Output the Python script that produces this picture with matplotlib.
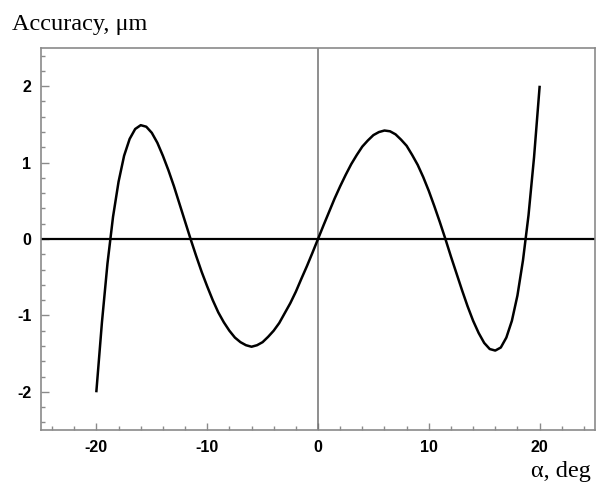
import matplotlib
matplotlib.use('Agg')
import matplotlib.pyplot as plt
from matplotlib.ticker import MultipleLocator

# angle (deg) and accuracy (um), every 0.5 deg
alpha = [x / 2 for x in range(-40, 41)]
accuracy = [
    -1.99, -1.09, -0.32, 0.29, 0.75, 1.09, 1.31, 1.44, 1.49, 1.47,
    1.39, 1.26, 1.09, 0.90, 0.69, 0.46, 0.23, 0.0, -0.22, -0.43,
    -0.62, -0.80, -0.96, -1.09, -1.20, -1.29, -1.35, -1.39, -1.41, -1.39,
    -1.35, -1.28, -1.20, -1.10, -0.97, -0.84, -0.69, -0.52, -0.355, -0.18,
    0.0,
    0.18, 0.355, 0.53, 0.69, 0.84, 0.98, 1.10, 1.21, 1.29, 1.36,
    1.40, 1.42, 1.41, 1.37, 1.30, 1.22, 1.10, 0.97, 0.81, 0.63,
    0.43, 0.22, 0.0, -0.23, -0.45, -0.67, -0.88, -1.07, -1.23, -1.36,
    -1.44, -1.46, -1.42, -1.29, -1.07, -0.74, -0.28, 0.31, 1.07, 1.99,
]

x_ticks = [-20, -10, 0, 10, 20]
y_ticks = [-2, -1, 0, 1, 2]

gray = '#8a8a8a'
plt.rcParams['axes.unicode_minus'] = False

fig = plt.figure(figsize=(5.96, 4.83), dpi=100)
ax = fig.add_axes([0.0688, 0.1097, 0.9295, 0.7909])

ax.axhline(0, color='black', lw=1.6, zorder=2)
ax.axvline(0, color='#707070', lw=1.1, zorder=2)
ax.plot(alpha, accuracy, color='black', lw=1.8, zorder=3,
        solid_joinstyle='round')

ax.set_xlim(-25, 25)
ax.set_ylim(-2.5, 2.5)
ax.set_xticks(x_ticks)
ax.set_yticks(y_ticks)
ax.xaxis.set_minor_locator(MultipleLocator(2))
ax.yaxis.set_minor_locator(MultipleLocator(0.2))

for side in ['left', 'right', 'top', 'bottom']:
    ax.spines[side].set_color(gray)
    ax.spines[side].set_linewidth(1.2)

ax.tick_params(which='both', direction='in', color=gray, width=1,
               top=False, right=False)
ax.tick_params(which='major', length=5, pad=7)
ax.tick_params(which='minor', length=3)
ax.tick_params(axis='y', which='major', length=6)

for lab in ax.get_xticklabels() + ax.get_yticklabels():
    lab.set_fontfamily('Liberation Sans')
    lab.set_fontweight('bold')
    lab.set_fontsize(11.5)

fig.text(0.02, 0.937, 'Accuracy, \u03bcm', fontfamily='Liberation Serif',
         fontsize=17.5, ha='left', va='baseline')
fig.text(0.992, 0.012, '\u03b1, deg', fontfamily='Liberation Serif',
         fontsize=17.5, ha='right', va='baseline')

fig.savefig('out.png', dpi=100)
